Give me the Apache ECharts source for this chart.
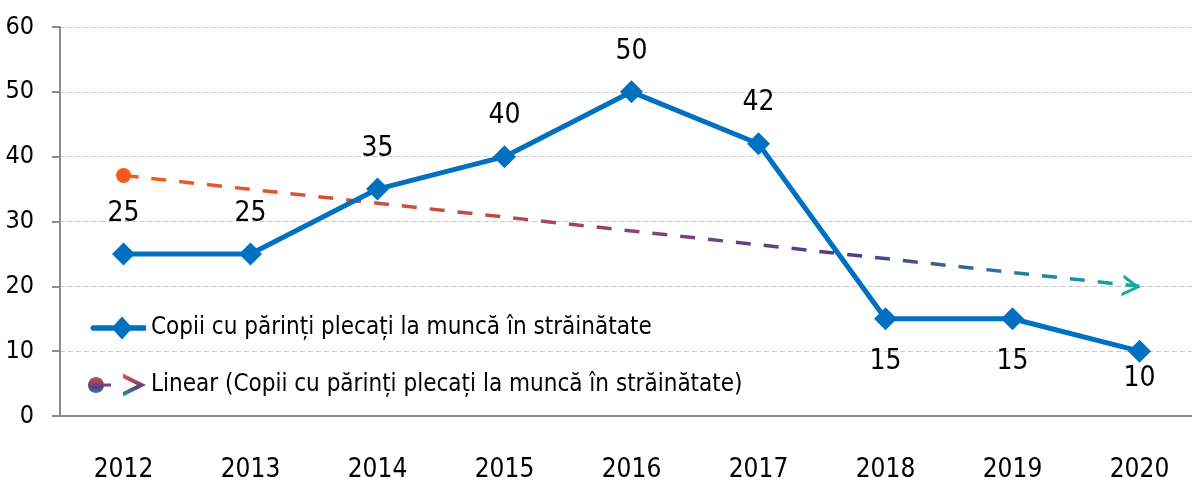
<!DOCTYPE html>
<html>
<head>
<meta charset="utf-8">
<script src="https://cdn.jsdelivr.net/npm/echarts@6/dist/echarts.min.js"></script>
<style>
  html, body { margin: 0; padding: 0; background: #fff; }
  #chart { width: 1192px; height: 484px; }
</style>
</head>
<body>
<div id="chart"></div>
<script>
const years = ['2012', '2013', '2014', '2015', '2016', '2017', '2018', '2019', '2020']
const copii = [25, 25, 35, 40, 50, 42, 15, 15, 10]
// capetele liniei de tendinta
const trendYears = ['2012', '2020']
const trendValues = [37.1, 20.0]
const yTicks = [0, 10, 20, 30, 40, 50, 60]

const seriesName = 'Copii cu părinți plecați la muncă în străinătate'
const trendName = 'Linear (Copii cu părinți plecați la muncă în străinătate)'
const font = '"DejaVu Sans Condensed", "DejaVu Sans", sans-serif'

const chart = echarts.init(document.getElementById('chart'))

const trendGradient = new echarts.graphic.LinearGradient(0, 0, 1, 0, [
  { offset: 0, color: '#f45a1e' },
  { offset: 0.3, color: '#c9503a' },
  { offset: 0.55, color: '#7a4178' },
  { offset: 0.72, color: '#4a3f8e' },
  { offset: 1, color: '#12aaa2' }
])

const legendGradient = new echarts.graphic.LinearGradient(0, 0, 0, 1, [
  { offset: 0, color: '#f45a1e' },
  { offset: 0.6, color: '#5a3f8a' },
  { offset: 1, color: '#12aaa2' }
])

// eticheta: sus pentru primele valori, jos pentru ultimele trei
const belowDist = { 6: 17, 7: 17, 8: 2 }
const copiiData = copii.map((v, i) => {
  const below = belowDist[i] !== undefined
  return {
    value: v,
    label: {
      position: below ? 'bottom' : 'top',
      distance: below ? belowDist[i] : 15
    }
  }
})

const trendData = trendYears.map((y, i) => {
  if (i === 0) {
    return {
      value: [y, trendValues[i]],
      symbol: 'circle',
      symbolSize: 15,
      itemStyle: { color: '#f45a1e' }
    }
  }
  return {
    value: [y, trendValues[i]],
    symbol: 'path://M0,0 L18,11 L0,22 L0,18.5 L12.5,11 L0,3.5 Z',
    symbolSize: [18, 22],
    symbolOffset: [-8, 0],
    symbolRotate: -6,
    itemStyle: { color: '#12aaa2' }
  }
})

const option = {
  animation: false,
  textStyle: { fontFamily: font },
  grid: {
    left: 60,
    right: -11,
    top: 27,
    bottom: 68,
    outerBoundsMode: 'none'
  },
  legend: {
    orient: 'vertical',
    left: 88,
    top: 316,
    padding: 0,
    itemWidth: 58,
    itemHeight: 23,
    itemGap: 33,
    symbolKeepAspect: false,
    textStyle: { fontFamily: font, fontSize: 24, color: '#000' },
    data: [
      {
        name: seriesName,
        icon: 'path://M4,8.8 L58,8.8 L58,14.2 L4,14.2 Z M34,0 L44.5,11.5 L34,23 L23.5,11.5 Z M2,11.5 L4,8.8 L4,14.2 Z M0,11.5 L0,11.5 Z',
        itemStyle: { color: '#0070c0' }
      },
      {
        name: trendName,
        icon: 'path://M0,11.5 C0,7.08 3.58,3.5 8,3.5 C12.42,3.5 16,7.08 16,11.5 C16,15.92 12.42,19.5 8,19.5 C3.58,19.5 0,15.92 0,11.5 Z M15,10 L23,10 L23,13 L15,13 Z M35,0 L58,11.5 L35,23 L35,18.5 L49,11.5 L35,4.5 Z',
        itemStyle: { color: legendGradient }
      }
    ]
  },
  xAxis: {
    type: 'category',
    data: years,
    boundaryGap: true,
    axisLine: { show: true, lineStyle: { color: '#8c8c8c', width: 2 } },
    axisTick: { show: false },
    axisLabel: { fontFamily: font, fontSize: 26, color: '#000', margin: 41 }
  },
  yAxis: {
    type: 'value',
    min: yTicks[0],
    max: yTicks[yTicks.length - 1],
    interval: 10,
    axisLine: { show: true, lineStyle: { color: '#8c8c8c', width: 2 } },
    axisTick: { show: true, length: 8, lineStyle: { color: '#8c8c8c', width: 2 } },
    axisLabel: { fontFamily: font, fontSize: 25, color: '#000', margin: 26 },
    splitLine: { show: true, lineStyle: { color: '#c8c8c8', type: [5, 3], width: 1 } }
  },
  series: [
    {
      name: seriesName,
      type: 'line',
      data: copiiData,
      symbol: 'diamond',
      symbolSize: 23,
      color: '#0070c0',
      lineStyle: { color: '#0070c0', width: 5 },
      itemStyle: { color: '#0070c0' },
      label: {
        show: true,
        fontFamily: font,
        fontSize: 28,
        color: '#000'
      },
      z: 3
    },
    {
      name: trendName,
      type: 'line',
      data: trendData,
      lineStyle: { color: trendGradient, width: 3.5, type: [15, 13] },
      itemStyle: { color: '#f45a1e' },
      z: 2
    }
  ]
}

chart.setOption(option)
</script>
</body>
</html>
